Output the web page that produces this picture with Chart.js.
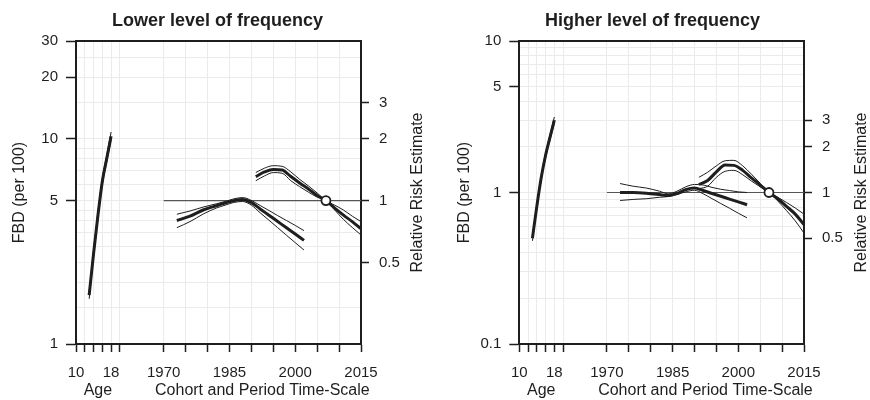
<!DOCTYPE html>
<html>
<head>
<meta charset="utf-8">
<script src="https://cdn.jsdelivr.net/npm/chart.js@4.4.1/dist/chart.umd.min.js"></script>
<style>
  body { margin: 0; background: #fff; }
  canvas { position: absolute; top: 0; }
</style>
</head>
<body>
<canvas id="lower" width="435" height="400" style="left:0"></canvas>
<canvas id="higher" width="435" height="400" style="left:435px"></canvas>
<script>
// ---- values ----
const panelTitles = ['Lower level of frequency', 'Higher level of frequency'];

const ages = [13, 14, 15, 16, 17, 18];
const ageFit1 = [1.73, 2.75, 4.23, 6.2, 8.0, 10.3];
const ageHi1  = [1.80, 2.86, 4.38, 6.42, 8.3, 10.8];
const ageLo1  = [1.66, 2.64, 4.08, 5.98, 7.7, 9.85];
const ageFit2 = [0.50, 0.81, 1.25, 1.76, 2.31, 3.0];
const ageHi2  = [0.52, 0.84, 1.29, 1.82, 2.40, 3.15];
const ageLo2  = [0.48, 0.78, 1.21, 1.70, 2.22, 2.87];

const cohortYears = [1973, 1976, 1979, 1982, 1984, 1986, 1988, 1990, 1992, 1994, 1996, 1998, 2000, 2002];
const cohortFit1 = [0.80, 0.84, 0.90, 0.944, 0.973, 1.0, 1.013, 0.978, 0.911, 0.849, 0.791, 0.737, 0.687, 0.64];
const cohortHi1  = [0.858, 0.89, 0.93, 0.965, 0.99, 1.02, 1.035, 1.002, 0.947, 0.895, 0.845, 0.80, 0.757, 0.714];
const cohortLo1  = [0.738, 0.79, 0.86, 0.92, 0.95, 0.98, 0.99, 0.95, 0.872, 0.803, 0.738, 0.678, 0.624, 0.574];
const cohortFit2 = [1.00, 1.00, 0.99, 0.97, 0.955, 0.985, 1.045, 1.07, 1.03, 0.985, 0.944, 0.905, 0.867, 0.83];
const cohortHi2  = [1.146, 1.10, 1.07, 1.02, 0.98, 1.02, 1.09, 1.13, 1.12, 1.08, 1.05, 1.03, 1.01, 1.0];
const cohortLo2  = [0.886, 0.90, 0.91, 0.93, 0.94, 0.97, 1.01, 1.035, 0.98, 0.911, 0.846, 0.787, 0.73, 0.68];

const periodYears = [1991, 1993, 1995, 1997, 1999, 2001, 2003, 2005, 2007, 2009, 2011, 2013, 2015];
const periodFit1 = [1.31, 1.38, 1.42, 1.41, 1.31, 1.22, 1.14, 1.06, 1.00, 0.92, 0.85, 0.79, 0.73];
const periodHi1  = [1.37, 1.44, 1.48, 1.47, 1.38, 1.27, 1.18, 1.09, 1.00, 0.95, 0.90, 0.84, 0.79];
const periodLo1  = [1.25, 1.32, 1.37, 1.36, 1.25, 1.17, 1.10, 1.04, 1.00, 0.90, 0.81, 0.74, 0.68];
const periodFit2 = [1.13, 1.20, 1.37, 1.52, 1.51, 1.40, 1.25, 1.12, 1.00, 0.91, 0.81, 0.72, 0.615];
const periodHi2  = [1.26, 1.36, 1.50, 1.62, 1.63, 1.50, 1.32, 1.15, 1.00, 0.93, 0.86, 0.79, 0.72];
const periodLo2  = [1.06, 1.10, 1.26, 1.38, 1.40, 1.31, 1.19, 1.09, 1.00, 0.88, 0.76, 0.65, 0.54];

const refYear = 2007;     // reference period (RR = 1)
const rrUnit = [5, 1];    // FBD per 100 that equals RR 1 in each panel

// ---- ticks ----
const ageTicks = [10, 12, 14, 16, 18, 20];
const yearTicks = [1970, 1975, 1980, 1985, 1990, 1995, 2000, 2005, 2010, 2015];
const xTickLabels = [10, 18, 1970, 1985, 2000, 2015];
const bottomTitles = ['Age', 'Cohort and Period Time-Scale'];

const fbdRange1 = [1, 30];
const fbdRange2 = [0.1, 10];
const fbdGrid1 = [1, 2, 3, 4, 5, 6, 7, 8, 9, 10, 20, 30];
const fbdGrid2 = [0.1, 0.2, 0.3, 0.4, 0.5, 0.6, 0.7, 0.8, 0.9, 1, 2, 3, 4, 5, 6, 7, 8, 9, 10];
const fbdLabels1 = [1, 5, 10, 20, 30];
const fbdLabels2 = [0.1, 1, 5, 10];
const rrGrid1 = [0.2, 0.3, 0.4, 0.5, 0.6, 0.7, 0.8, 0.9, 1, 2, 3, 4, 5, 6];
const rrGrid2 = [0.1, 0.2, 0.3, 0.4, 0.5, 0.6, 0.7, 0.8, 0.9, 1, 2, 3, 4, 5, 6, 7, 8, 9, 10];
const rrLabels = [0.5, 1, 2, 3];

const ink = '#1e1e1e';
const gridColor = '#ebebeb';
const family = "'Liberation Sans', Arial, sans-serif";

// age and calendar time share one axis; 1970 sits 20 units right of age 10
function yearToX(y) { return y - 1940; }
function pts(xs, ys) { return xs.map((x, i) => ({ x: x, y: ys[i] })); }
function has(list, v) { return list.some(u => Math.abs(u - v) < 1e-6 * Math.max(u, 1)); }

const rightTitle = {
  id: 'rightTitle',
  afterDraw(chart, args, opts) {
    const ctx = chart.ctx, a = chart.chartArea;
    ctx.save();
    ctx.translate(opts.x, (a.top + a.bottom) / 2);
    ctx.rotate(-Math.PI / 2);
    ctx.font = '16px ' + family;
    ctx.fillStyle = ink;
    ctx.textAlign = 'center';
    ctx.textBaseline = 'middle';
    ctx.fillText(opts.text, 0, 0);
    ctx.restore();
  }
};

const panels = [
  { id: 'lower', range: fbdRange1, grid: fbdGrid1, labels: fbdLabels1, rrGrid: rrGrid1,
    age: [ageFit1, ageHi1, ageLo1], cohort: [cohortFit1, cohortHi1, cohortLo1], period: [periodFit1, periodHi1, periodLo1],
    yW: 76, y2W: 74, yPad: 10.4, rtX: 418 },
  { id: 'higher', range: fbdRange2, grid: fbdGrid2, labels: fbdLabels2, rrGrid: rrGrid2,
    age: [ageFit2, ageHi2, ageLo2], cohort: [cohortFit2, cohortHi2, cohortLo2], period: [periodFit2, periodHi2, periodLo2],
    yW: 84.3, y2W: 66, yPad: 20.4, rtX: 427 }
];

panels.forEach(function(p, i) {
  const unit = rrUnit[i];
  const cx = cohortYears.map(yearToX);
  const px = periodYears.map(yearToX);
  const thick = (data, axis) => ({ data: data, yAxisID: axis, borderColor: ink, borderWidth: 3, pointRadius: 0, cubicInterpolationMode: 'monotone' });
  const thin = (data, axis) => ({ data: data, yAxisID: axis, borderColor: ink, borderWidth: 1, pointRadius: 0, cubicInterpolationMode: 'monotone' });

  const datasets = [
    { data: [{ x: yearToX(refYear), y: 1 }], yAxisID: 'y2', showLine: false, pointRadius: 4.5,
      pointBackgroundColor: '#fff', pointBorderColor: ink, pointBorderWidth: 1.8 },
    thick(pts(ages, p.age[0]), 'y'),
    thick(pts(cx, p.cohort[0]), 'y2'),
    thick(pts(px, p.period[0]), 'y2'),
    thin(pts(ages, p.age[1]), 'y'), thin(pts(ages, p.age[2]), 'y'),
    thin(pts(cx, p.cohort[1]), 'y2'), thin(pts(cx, p.cohort[2]), 'y2'),
    thin(pts(px, p.period[1]), 'y2'), thin(pts(px, p.period[2]), 'y2'),
    { data: [{ x: yearToX(yearTicks[0]), y: 1 }, { x: yearToX(yearTicks[yearTicks.length - 1]), y: 1 }],
      yAxisID: 'y2', borderColor: '#555', borderWidth: 1.2, pointRadius: 0 }
  ];

  const xTicks = ageTicks.concat(yearTicks.map(yearToX));
  const tickFont = { family: family, size: 15 };
  const titleFont = { family: family, size: 16 };

  new Chart(document.getElementById(p.id), {
    type: 'line',
    data: { datasets: datasets },
    plugins: [rightTitle],
    options: {
      responsive: false,
      animation: false,
      devicePixelRatio: 1,
      layout: { padding: 0 },
      plugins: {
        legend: { display: false },
        tooltip: { enabled: false },
        title: { display: true, text: panelTitles[i], color: ink,
                 font: { family: family, size: 18, weight: 'bold' }, padding: { top: 10, bottom: 9.4 } },
        rightTitle: { text: 'Relative Risk Estimate', x: p.rtX }
      },
      scales: {
        x: {
          type: 'linear', position: 'bottom', min: 10, max: 75,
          afterBuildTicks: s => { s.ticks = xTicks.map(v => ({ value: v })); },
          afterFit: s => { s.height = 37; },
          ticks: { autoSkip: false, maxRotation: 0, color: ink, font: tickFont, padding: 12,
                   callback: v => { const lab = v <= 20 ? v : v + 1940; return has(xTickLabels, lab) ? String(lab) : ''; } },
          grid: { color: gridColor, tickColor: ink, tickLength: 8, tickWidth: 1.5 },
          border: { color: ink, width: 2 }
        },
        xa: {
          type: 'linear', position: 'bottom', min: 10, max: 75,
          afterBuildTicks: s => { s.ticks = [{ value: 15 }, { value: 52.5 }]; },
          afterFit: s => { s.height = 19; },
          ticks: { autoSkip: false, maxRotation: 0, color: ink, font: titleFont, padding: 0,
                   callback: v => v < 30 ? bottomTitles[0] : bottomTitles[1] },
          grid: { display: false, drawTicks: false },
          border: { display: false }
        },
        xt: {
          type: 'linear', position: 'top', min: 10, max: 75,
          afterFit: s => { s.height = 0; },
          ticks: { display: false },
          grid: { drawOnChartArea: false, drawTicks: false },
          border: { color: ink, width: 2 }
        },
        y: {
          type: 'logarithmic', position: 'left', min: p.range[0], max: p.range[1],
          afterBuildTicks: s => { s.ticks = p.grid.map(v => ({ value: v })); },
          afterFit: s => { s.width = p.yW; },
          ticks: { autoSkip: false, color: ink, font: tickFont, padding: 8,
                   callback: v => has(p.labels, v) ? String(v) : '' },
          grid: { color: gridColor, tickLength: 10, tickWidth: 1.5,
                  tickColor: c => has(p.labels, c.tick.value) ? ink : 'rgba(0,0,0,0)' },
          border: { color: ink, width: 2 },
          title: { display: true, text: 'FBD (per 100)', color: ink, font: titleFont, padding: { top: p.yPad, bottom: 0 } }
        },
        y2: {
          type: 'logarithmic', position: 'right', min: p.range[0] / unit, max: p.range[1] / unit,
          afterBuildTicks: s => { s.ticks = p.rrGrid.map(v => ({ value: v })); },
          afterFit: s => { s.width = p.y2W; },
          ticks: { autoSkip: false, color: ink, font: tickFont, padding: 10,
                   callback: v => has(rrLabels, v) ? String(v) : '' },
          grid: { color: gridColor, tickLength: 8, tickWidth: 1.5,
                  tickColor: c => has(rrLabels, c.tick.value) ? ink : 'rgba(0,0,0,0)' },
          border: { color: ink, width: 2 }
        }
      }
    }
  });
});
</script>
</body>
</html>
